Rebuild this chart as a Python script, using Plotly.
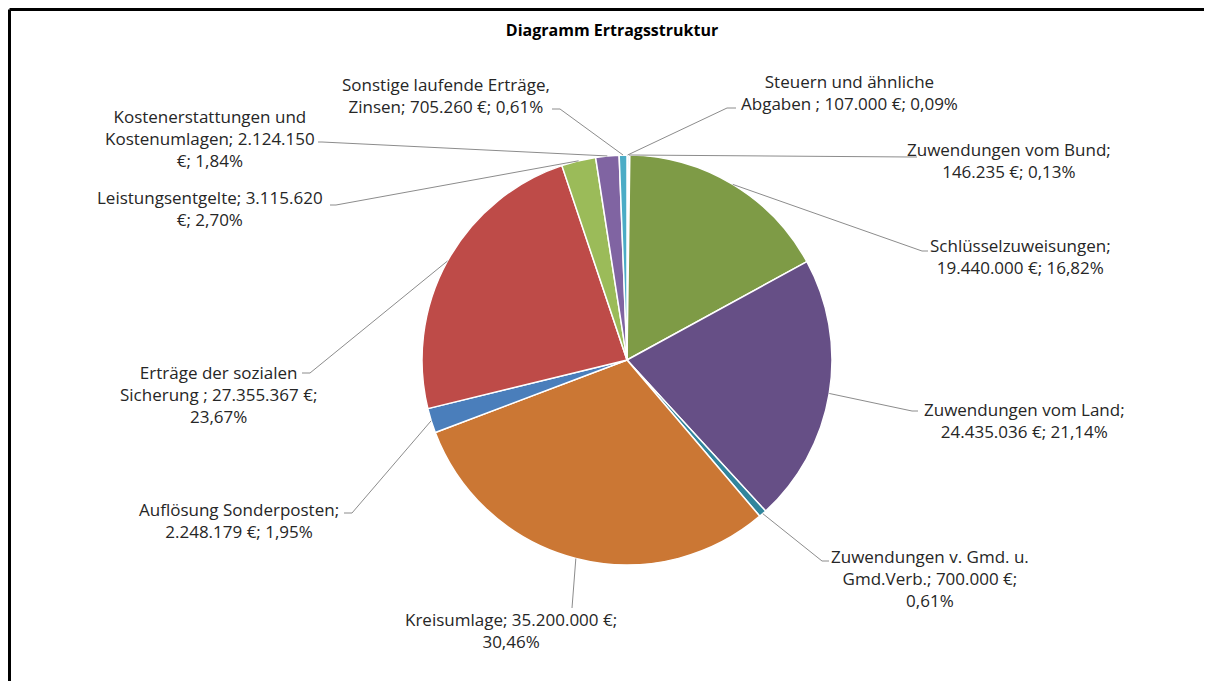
import math

import plotly.graph_objects as go

names = [
    "Steuern und ähnliche Abgaben",
    "Zuwendungen vom Bund",
    "Schlüsselzuweisungen",
    "Zuwendungen vom Land",
    "Zuwendungen v. Gmd. u. Gmd.Verb.",
    "Kreisumlage",
    "Auflösung Sonderposten",
    "Erträge der sozialen Sicherung",
    "Leistungsentgelte",
    "Kostenerstattungen und Kostenumlagen",
    "Sonstige laufende Erträge, Zinsen",
]
values = [107000, 146235, 19440000, 24435036, 700000, 35200000,
          2248179, 27355367, 3115620, 2124150, 705260]
label_texts = [
    "Steuern und ähnliche<br>Abgaben ; 107.000 €; 0,09%",
    "Zuwendungen vom Bund;<br>146.235 €; 0,13%",
    "Schlüsselzuweisungen;<br>19.440.000 €; 16,82%",
    "Zuwendungen vom Land;<br>24.435.036 €; 21,14%",
    "Zuwendungen v. Gmd. u.<br>Gmd.Verb.; 700.000 €;<br>0,61%",
    "Kreisumlage; 35.200.000 €;<br>30,46%",
    "Auflösung Sonderposten;<br>2.248.179 €; 1,95%",
    "Erträge der sozialen<br>Sicherung ; 27.355.367 €;<br>23,67%",
    "Leistungsentgelte; 3.115.620<br>€; 2,70%",
    "Kostenerstattungen und<br>Kostenumlagen; 2.124.150<br>€; 1,84%",
    "Sonstige laufende Erträge,<br>Zinsen; 705.260 €; 0,61%",
]
colors = ["#C0504D", "#4F81BD", "#7E9B46", "#664F86", "#31859C", "#CB7734",
          "#4A7EBB", "#BE4B48", "#9BBB59", "#8064A2", "#4BACC6"]

# Seite hat 8px body-Rand -> Figur etwas kleiner, Koordinaten verschoben
PAGE_MARGIN = 8
W, H = 1212 - 2 * PAGE_MARGIN, 689 - 2 * PAGE_MARGIN
cx, cy, r = 627, 360, 205  # Tortenmitte und Radius in Bildschirm-Pixel

# Label-Mitte, Knick der Führungslinie, Ende am Text (Bildschirm-Pixel)
label_pos = [(849, 92), (1009, 161), (1020, 256), (1024, 420), (930, 578),
             (511, 630), (239, 520), (218, 395), (210, 208), (210, 139), (446, 96)]
leader_knee = [(727, 108), (912, 157), (922, 251), (912, 411), (822, 561),
               (572, 608), (352, 513), (310, 373), (336, 205), (322, 142), (560, 109)]
leader_tip = [(736, 108), (917, 157), (928, 251), (918, 411), (829, 561),
              (572, 608), (344, 513), (302, 373), (330, 205), (318, 142), (552, 109)]

FONT = "Open Sans, Lato, sans-serif"


def px(x):
    return (x - PAGE_MARGIN) / W


def py(y):
    return 1 - (y - PAGE_MARGIN) / H


fig = go.Figure()
fig.add_trace(
    go.Pie(
        labels=names,
        values=values,
        sort=False,
        direction="clockwise",
        rotation=0,
        textinfo="none",
        marker=dict(colors=colors, line=dict(color="white", width=1.5)),
        domain=dict(x=[px(cx - r), px(cx + r)], y=[py(cy + r), py(cy - r)]),
        showlegend=False,
    )
)

total = sum(values)
shapes = []
annotations = []
cum = 0
for i, v in enumerate(values):
    theta = 2 * math.pi * (cum + v / 2) / total
    cum += v
    sx = cx + r * math.sin(theta)
    sy = cy - r * math.cos(theta)
    kx, ky = leader_knee[i]
    tx, ty = leader_tip[i]
    shapes.append(dict(
        type="path", xref="paper", yref="paper",
        path=f"M {px(sx)},{py(sy)} L {px(kx)},{py(ky)} L {px(tx)},{py(ty)}",
        line=dict(color="#8C8C8C", width=1),
    ))
    lx, ly = label_pos[i]
    annotations.append(dict(
        x=px(lx), y=py(ly), xref="paper", yref="paper",
        text=label_texts[i], showarrow=False, align="center",
        xanchor="center", yanchor="middle",
        font=dict(family=FONT, size=17, color="#262626"),
    ))

# Rahmen (oben und links sichtbar)
shapes.append(dict(type="line", xref="paper", yref="paper",
                   x0=px(9.5), y0=py(9.5), x1=1, y1=py(9.5),
                   line=dict(color="black", width=3)))
shapes.append(dict(type="line", xref="paper", yref="paper",
                   x0=px(9.5), y0=py(9.5), x1=px(9.5), y1=0,
                   line=dict(color="black", width=3)))

fig.update_layout(
    width=W,
    height=H,
    margin=dict(l=0, r=0, t=0, b=0),
    paper_bgcolor="white",
    plot_bgcolor="white",
    title=dict(
        text="<b>Diagramm Ertragsstruktur</b>",
        x=px(612), y=py(30), xanchor="center", yanchor="middle",
        font=dict(family=FONT, size=16, color="black"),
    ),
    shapes=shapes,
    annotations=annotations,
)

fig.write_html("out.html")
